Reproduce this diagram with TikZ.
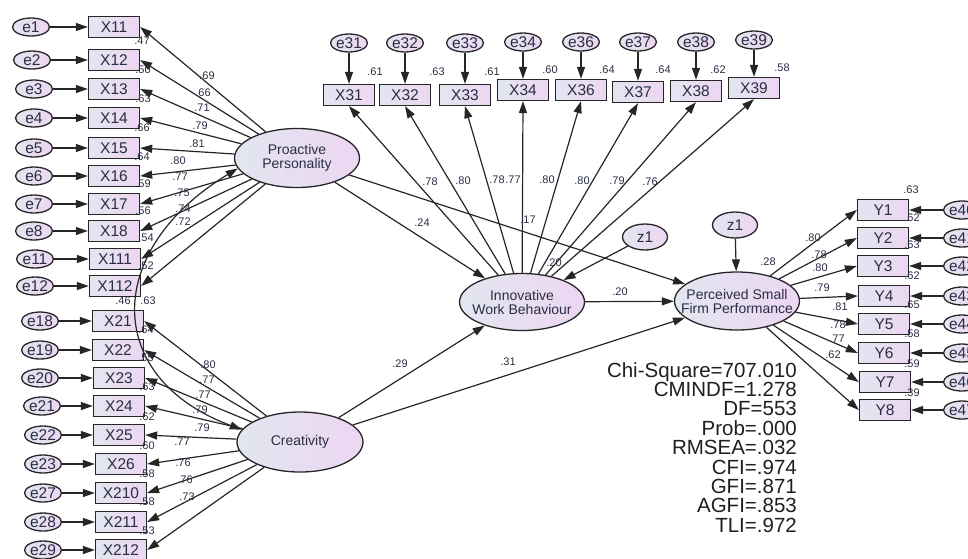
\documentclass[tikz,border=0pt]{standalone}
\usepackage{fontspec}
\setmainfont{Liberation Sans}
\usetikzlibrary{arrows.meta,shapes.geometric}

\definecolor{semtext}{HTML}{2A2E44}
\definecolor{fillleft}{HTML}{E2E6F0}
\definecolor{fillright}{HTML}{EDD6F2}

\tikzset{
    obsbox/.style={rectangle, draw=black!85, line width=1.3pt, left color=fillleft, right color=fillright,
        minimum width=51pt, minimum height=21pt, inner sep=0pt, text=semtext, font=\fontsize{15.5}{16}\selectfont},
    errbox/.style={ellipse, draw=black!85, line width=1.3pt, left color=fillleft, right color=fillright,
        minimum width=37pt, minimum height=18pt, inner sep=0pt, text=semtext, font=\fontsize{15.5}{16}\selectfont},
    latbox/.style={ellipse, draw=black!85, line width=1.3pt, left color=fillleft, right color=fillright,
        minimum width=125pt, minimum height=59pt, inner xsep=-20pt, inner ysep=0pt, align=center,
        text=semtext, font=\fontsize{14}{14}\selectfont},
    coef/.style={inner sep=0pt, text=semtext, font=\fontsize{11}{11}\selectfont},
    arr/.style={-{Triangle[length=12pt,width=8pt]}, line width=1.2pt, draw=black!85},
    covarr/.style={{Triangle[length=12pt,width=8pt]}-{Triangle[length=12pt,width=8pt]}, line width=1.2pt, draw=black!85},
}

\begin{document}
\begin{tikzpicture}[x=1pt, y=-1pt]

            \useasboundingbox (0,0) rectangle (968,558);

            % latent variables
            \node[latbox] (pp) at (297,158) {Proactive\\Personality};
            \node[latbox, minimum width=126pt, minimum height=60pt] (cr) at (300,442) {Creativity};
            \node[latbox, minimum height=57pt] (iwb) at (522,302) {Innovative\\Work Behaviour};
            \node[latbox, minimum height=58pt] (psfp) at (737,301) {Perceived Small\\Firm Performance};

            \node[errbox, minimum width=45pt, minimum height=26pt] (z1a) at (645,237) {z1};
            \node[errbox, minimum width=45pt, minimum height=26pt] (z1b) at (735,225) {z1};

            % proactive personality items
            \node[obsbox] (x11) at (114,27) {X11};
            \node[obsbox] (x12) at (114,60) {X12};
            \node[obsbox] (x13) at (114,89) {X13};
            \node[obsbox] (x14) at (114,118) {X14};
            \node[obsbox] (x15) at (114,148) {X15};
            \node[obsbox] (x16) at (114,176) {X16};
            \node[obsbox] (x17) at (114,204) {X17};
            \node[obsbox] (x18) at (114,231) {X18};
            \node[obsbox] (x111) at (115,259) {X111};
            \node[obsbox] (x112) at (115,286) {X112};

            \node[errbox] (e1) at (31,27) {e1};
            \node[errbox] (e2) at (32,60) {e2};
            \node[errbox] (e3) at (34,89) {e3};
            \node[errbox] (e4) at (34,118) {e4};
            \node[errbox] (e5) at (34,148) {e5};
            \node[errbox] (e6) at (34,176) {e6};
            \node[errbox] (e7) at (34,204) {e7};
            \node[errbox] (e8) at (34,231) {e8};
            \node[errbox] (e11) at (35,259) {e11};
            \node[errbox] (e12) at (35,286) {e12};

            % creativity items
            \node[obsbox] (x21) at (118,321) {X21};
            \node[obsbox] (x22) at (118,350) {X22};
            \node[obsbox] (x23) at (119,378) {X23};
            \node[obsbox] (x24) at (119,406) {X24};
            \node[obsbox] (x25) at (119,435) {X25};
            \node[obsbox] (x26) at (121,464) {X26};
            \node[obsbox] (x210) at (121,493) {X210};
            \node[obsbox] (x211) at (121,522) {X211};
            \node[obsbox] (x212) at (121,550) {X212};

            \node[errbox] (e18) at (40,321) {e18};
            \node[errbox] (e19) at (40,350) {e19};
            \node[errbox] (e20) at (40,378) {e20};
            \node[errbox] (e21) at (42,406) {e21};
            \node[errbox] (e22) at (43,435) {e22};
            \node[errbox] (e23) at (43,464) {e23};
            \node[errbox] (e27) at (43,493) {e27};
            \node[errbox] (e28) at (43,522) {e28};
            \node[errbox] (e29) at (43,550) {e29};

            % innovative work behaviour items
            \node[obsbox] (x31) at (349,95) {X31};
            \node[obsbox] (x32) at (405,95) {X32};
            \node[obsbox] (x33) at (465,95) {X33};
            \node[obsbox] (x34) at (523,90) {X34};
            \node[obsbox] (x36) at (581,90) {X36};
            \node[obsbox] (x37) at (638,92) {X37};
            \node[obsbox] (x38) at (696,91) {X38};
            \node[obsbox] (x39) at (754,88) {X39};

            \node[errbox] (e31) at (349,43) {e31};
            \node[errbox] (e32) at (405,43) {e32};
            \node[errbox] (e33) at (465,43) {e33};
            \node[errbox] (e34) at (523,42) {e34};
            \node[errbox] (e36) at (581,42) {e36};
            \node[errbox] (e37) at (638,42) {e37};
            \node[errbox] (e38) at (696,42) {e38};
            \node[errbox] (e39) at (754,40) {e39};

            % performance items
            \node[obsbox] (y1) at (883,210) {Y1};
            \node[obsbox] (y2) at (883,238) {Y2};
            \node[obsbox] (y3) at (883,266) {Y3};
            \node[obsbox] (y4) at (884,296) {Y4};
            \node[obsbox] (y5) at (884,324) {Y5};
            \node[obsbox] (y6) at (884,353) {Y6};
            \node[obsbox] (y7) at (885,382) {Y7};
            \node[obsbox] (y8) at (885,410) {Y8};

            \node[errbox] (e40) at (962,210) {e40};
            \node[errbox] (e41) at (962,238) {e41};
            \node[errbox] (e42) at (962,266) {e42};
            \node[errbox] (e43) at (962,296) {e43};
            \node[errbox] (e44) at (962,324) {e44};
            \node[errbox] (e45) at (962,353) {e45};
            \node[errbox] (e46) at (962,382) {e46};
            \node[errbox] (e47) at (962,410) {e47};

            % errors to items
            \draw[arr] (e1) -- (x11);
            \draw[arr] (e2) -- (x12);
            \draw[arr] (e3) -- (x13);
            \draw[arr] (e4) -- (x14);
            \draw[arr] (e5) -- (x15);
            \draw[arr] (e6) -- (x16);
            \draw[arr] (e7) -- (x17);
            \draw[arr] (e8) -- (x18);
            \draw[arr] (e11) -- (x111);
            \draw[arr] (e12) -- (x112);
            \draw[arr] (e18) -- (x21);
            \draw[arr] (e19) -- (x22);
            \draw[arr] (e20) -- (x23);
            \draw[arr] (e21) -- (x24);
            \draw[arr] (e22) -- (x25);
            \draw[arr] (e23) -- (x26);
            \draw[arr] (e27) -- (x210);
            \draw[arr] (e28) -- (x211);
            \draw[arr] (e29) -- (x212);
            \draw[arr] (e31) -- (x31);
            \draw[arr] (e32) -- (x32);
            \draw[arr] (e33) -- (x33);
            \draw[arr] (e34) -- (x34);
            \draw[arr] (e36) -- (x36);
            \draw[arr] (e37) -- (x37);
            \draw[arr] (e38) -- (x38);
            \draw[arr] (e39) -- (x39);
            \draw[arr] (e40) -- (y1);
            \draw[arr] (e41) -- (y2);
            \draw[arr] (e42) -- (y3);
            \draw[arr] (e43) -- (y4);
            \draw[arr] (e44) -- (y5);
            \draw[arr] (e45) -- (y6);
            \draw[arr] (e46) -- (y7);
            \draw[arr] (e47) -- (y8);

            % loadings
            \draw[arr] (pp) -- (x11.east);
            \draw[arr] (pp) -- (x12.east);
            \draw[arr] (pp) -- (x13.east);
            \draw[arr] (pp) -- (x14.east);
            \draw[arr] (pp) -- (x15.east);
            \draw[arr] (pp) -- (x16.east);
            \draw[arr] (pp) -- (x17.east);
            \draw[arr] (pp) -- (x18.east);
            \draw[arr] (pp) -- (x111.east);
            \draw[arr] (pp) -- (x112.east);

            \draw[arr] (cr) -- (x21.east);
            \draw[arr] (cr) -- (x22.east);
            \draw[arr] (cr) -- (x23.east);
            \draw[arr] (cr) -- (x24.east);
            \draw[arr] (cr) -- (x25.east);
            \draw[arr] (cr) -- (x26.east);
            \draw[arr] (cr) -- (x210.east);
            \draw[arr] (cr) -- (x211.east);
            \draw[arr] (cr) -- (x212.east);

            \draw[arr] (iwb) -- (x31.south);
            \draw[arr] (iwb) -- (x32.south);
            \draw[arr] (iwb) -- (x33.south);
            \draw[arr] (iwb) -- (x34.south);
            \draw[arr] (iwb) -- (x36.south);
            \draw[arr] (iwb) -- (x37.south);
            \draw[arr] (iwb) -- (x38.south);
            \draw[arr] (iwb) -- (x39.south);

            \draw[arr] (psfp) -- (y1.west);
            \draw[arr] (psfp) -- (y2.west);
            \draw[arr] (psfp) -- (y3.west);
            \draw[arr] (psfp) -- (y4.west);
            \draw[arr] (psfp) -- (y5.west);
            \draw[arr] (psfp) -- (y6.west);
            \draw[arr] (psfp) -- (y7.west);
            \draw[arr] (psfp) -- (y8.west);

            % structural paths
            \draw[arr] (pp) -- (iwb);
            \draw[arr] (pp) -- (psfp);
            \draw[arr] (cr) -- (iwb);
            \draw[arr] (cr) -- (psfp);
            \draw[arr] (iwb) -- (psfp);
            \draw[arr] (z1a) -- (iwb);
            \draw[arr] (z1b) -- (psfp);
            \draw[covarr] (pp.190) .. controls (103,250) and (103,378) .. (cr.168);

            % coefficients
            \node[coef] at (207,76) {.69};
            \node[coef] at (203,93) {.66};
            \node[coef] at (202,108) {.71};
            \node[coef] at (200,126) {.79};
            \node[coef] at (197,144) {.81};
            \node[coef] at (178,161) {.80};
            \node[coef] at (180,177) {.77};
            \node[coef] at (182,193) {.75};
            \node[coef] at (183,209) {.74};
            \node[coef] at (183,222) {.72};

            \node[coef] at (208,365) {.80};
            \node[coef] at (207,380) {.77};
            \node[coef] at (203,395) {.77};
            \node[coef] at (200,410) {.79};
            \node[coef] at (202,428) {.79};
            \node[coef] at (182,442) {.77};
            \node[coef] at (183,463) {.76};
            \node[coef] at (185,480) {.76};
            \node[coef] at (187,497) {.73};

            \node[coef] at (142,41) {.47};
            \node[coef] at (143,70) {.50};
            \node[coef] at (143,99) {.63};
            \node[coef] at (142,128) {.66};
            \node[coef] at (142,157) {.64};
            \node[coef] at (143,184) {.59};
            \node[coef] at (143,211) {.56};
            \node[coef] at (146,238) {.54};
            \node[coef] at (146,266) {.52};
            \node[coef] at (148,301) {.63};
            \node[coef] at (123,301) {.46};
            \node[coef] at (146,330) {.64};
            \node[coef] at (146,358) {.55};
            \node[coef] at (147,387) {.63};
            \node[coef] at (147,417) {.62};
            \node[coef] at (147,446) {.60};
            \node[coef] at (147,474) {.58};
            \node[coef] at (147,502) {.58};
            \node[coef] at (147,531) {.53};

            \node[coef] at (375,72) {.61};
            \node[coef] at (437,72) {.63};
            \node[coef] at (492,72) {.61};
            \node[coef] at (550,70) {.60};
            \node[coef] at (607,70) {.64};
            \node[coef] at (663,70) {.64};
            \node[coef] at (718,70) {.62};
            \node[coef] at (782,68) {.58};

            \node[coef] at (430,182) {.78};
            \node[coef] at (463,181) {.80};
            \node[coef] at (497,180) {.78};
            \node[coef] at (513,180) {.77};
            \node[coef] at (547,180) {.80};
            \node[coef] at (582,181) {.80};
            \node[coef] at (617,181) {.79};
            \node[coef] at (650,182) {.76};

            \node[coef] at (422,223) {.24};
            \node[coef] at (528,220) {.17};
            \node[coef] at (554,263) {.20};
            \node[coef] at (768,262) {.28};
            \node[coef] at (620,292) {.20};
            \node[coef] at (400,364) {.29};
            \node[coef] at (508,362) {.31};

            \node[coef] at (813,238) {.80};
            \node[coef] at (819,255) {.78};
            \node[coef] at (820,268) {.80};
            \node[coef] at (822,288) {.79};
            \node[coef] at (840,307) {.81};
            \node[coef] at (838,325) {.78};
            \node[coef] at (837,339) {.77};
            \node[coef] at (833,355) {.62};

            \node[coef] at (911,190) {.63};
            \node[coef] at (912,218) {.62};
            \node[coef] at (912,245) {.63};
            \node[coef] at (912,276) {.62};
            \node[coef] at (912,305) {.65};
            \node[coef] at (912,334) {.58};
            \node[coef] at (912,364) {.59};
            \node[coef] at (912,393) {.39};

            % fit indices
            \node[anchor=north east, align=right, inner sep=0pt, text=black!88,
                font=\fontsize{20.5}{19.4}\selectfont] (fit) at (797,362)
                {Chi-Square=707.010\\CMINDF=1.278\\DF=553\\Prob=.000\\RMSEA=.032\\CFI=.974\\GFI=.871\\AGFI=.853\\TLI=.972};

\end{tikzpicture}
\end{document}
